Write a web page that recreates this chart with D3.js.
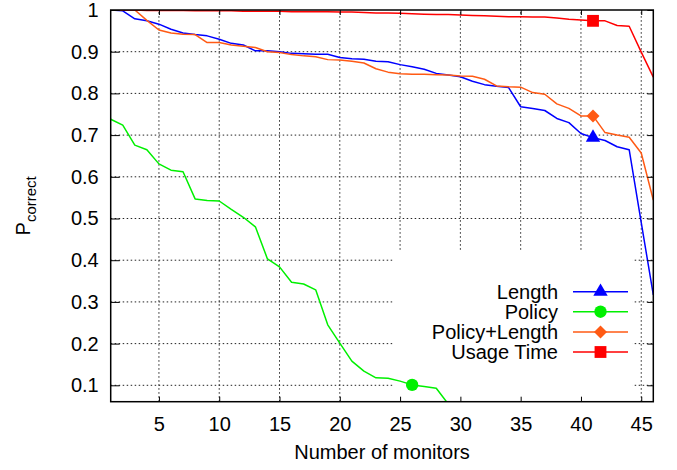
<!DOCTYPE html>
<html>
<head>
<meta charset="utf-8">
<script src="https://cdn.jsdelivr.net/npm/d3@7"></script>
<style>
  html, body { margin: 0; padding: 0; background: #fff; }
  svg { display: block; font-family: "Liberation Sans", Arial, sans-serif; }
</style>
</head>
<body>
<div id="chart"></div>
<script>
// ---- data ----
const monitors = [1,2,3,4,5,6,7,8,9,10,11,12,13,14,15,16,17,18,19,20,21,22,23,24,25,26,27,28,29,30,31,32,33,34,35,36,37,38,39,40,41,42,43,44,45,46];
const lengthVals = [1.000,0.998,0.979,0.974,0.966,0.954,0.945,0.941,0.938,0.930,0.920,0.916,0.902,0.902,0.900,0.896,0.895,0.894,0.894,0.886,0.883,0.882,0.877,0.876,0.869,0.864,0.858,0.848,0.844,0.840,0.829,0.821,0.817,0.814,0.768,0.764,0.759,0.740,0.730,0.704,0.694,0.687,0.672,0.665,0.490,0.317];
const policyVals = [0.738,0.724,0.676,0.665,0.631,0.616,0.612,0.547,0.543,0.542,0.522,0.503,0.480,0.403,0.384,0.347,0.343,0.329,0.245,0.201,0.158,0.134,0.118,0.117,0.110,0.101,0.097,0.093,0.055];
const policyLengthVals = [1.000,1.000,1.000,0.975,0.952,0.945,0.942,0.941,0.922,0.922,0.916,0.913,0.910,0.900,0.898,0.893,0.890,0.888,0.881,0.880,0.877,0.873,0.859,0.851,0.847,0.846,0.846,0.845,0.844,0.842,0.841,0.834,0.818,0.816,0.815,0.802,0.798,0.775,0.764,0.746,0.746,0.706,0.700,0.695,0.657,0.544];
const usageTimeVals = [1.000,1.000,1.000,0.999,0.999,0.999,0.999,0.998,0.998,0.998,0.998,0.997,0.997,0.997,0.997,0.996,0.996,0.996,0.996,0.995,0.995,0.994,0.993,0.993,0.992,0.991,0.990,0.989,0.989,0.988,0.987,0.986,0.985,0.984,0.984,0.983,0.983,0.981,0.978,0.976,0.974,0.974,0.963,0.961,0.899,0.839];
const seriesNames = ["Length","Policy","Policy+Length","Usage Time"];
const markerAt = [41, 26, 41, 41];
const xTicks = [5,10,15,20,25,30,35,40,45];
const yTicks = [0.1,0.2,0.3,0.4,0.5,0.6,0.7,0.8,0.9,1];
const xLabel = "Number of monitors";

// ---- style ----
const colors = ["#0000ff","#00f000","#ff5a14","#ff0000"];
const symbols = [d3.symbolTriangle, d3.symbolCircle, d3.symbolSquare, d3.symbolSquare];
const symSizes = [90, 120, 85, 140];
const symRot = [0, 0, 45, 0];

const W = 677, H = 470;
const mLeft = 110.7, mRight = 653.3, mTop = 10, mBottom = 401.7;

const svg = d3.select("#chart").append("svg").attr("width", W).attr("height", H);

const x = d3.scaleLinear().domain([1, 46]).range([mLeft, mRight]);
const y = d3.scaleLinear().domain([0.0607, 1]).range([mBottom, mTop]);

// grid
const grid = svg.append("g").attr("stroke", "#222").attr("stroke-width", 1).attr("stroke-dasharray", "1.5,2.5");
grid.selectAll("line.gx").data(xTicks).join("line")
  .attr("x1", d => x(d)).attr("x2", d => x(d)).attr("y1", mBottom).attr("y2", mTop);
grid.selectAll("line.gy").data(yTicks.filter(d => d < 1)).join("line")
  .attr("x1", mLeft).attr("x2", mRight).attr("y1", d => y(d)).attr("y2", d => y(d));

// legend background (hides grid)
const legX0 = x(24.4), legX1 = x(44.3), legY0 = y(0.42);
svg.append("rect").attr("x", legX0).attr("y", legY0).attr("width", legX1 - legX0).attr("height", mBottom - legY0).attr("fill", "#fff");

// clip
svg.append("clipPath").attr("id", "clip").append("rect")
  .attr("x", mLeft).attr("y", mTop).attr("width", mRight - mLeft).attr("height", mBottom - mTop);

const allSeries = [lengthVals, policyVals, policyLengthVals, usageTimeVals];
const line = d3.line().x(d => x(d[0])).y(d => y(d[1]));
const plot = svg.append("g").attr("clip-path", "url(#clip)");
allSeries.forEach((vals, i) => {
  const pts = vals.map((v, j) => [monitors[j], v]);
  plot.append("path").datum(pts).attr("d", line)
    .attr("fill", "none").attr("stroke", colors[i]).attr("stroke-width", 1.5)
    .attr("stroke-linejoin", "round");
});
allSeries.forEach((vals, i) => {
  const j = monitors.indexOf(markerAt[i]);
  svg.append("path").attr("d", d3.symbol().type(symbols[i]).size(symSizes[i])())
    .attr("transform", `translate(${x(markerAt[i])},${y(vals[j])}) rotate(${symRot[i]})`)
    .attr("fill", colors[i]);
});

// axes (inward ticks)
const axL = d3.axisLeft(y).tickValues(yTicks).tickSize(-9).tickPadding(12).tickFormat(d => d === 1 ? "1" : d3.format(".1f")(d));
const axR = d3.axisRight(y).tickValues(yTicks).tickSize(-6).tickFormat("");
const axB = d3.axisBottom(x).tickValues(xTicks).tickSize(-5).tickPadding(15);
const axT = d3.axisTop(x).tickValues(xTicks).tickSize(-5).tickFormat("");

function styleAxis(g) {
  g.select(".domain").remove();
  g.selectAll(".tick line").attr("stroke", "#000").attr("stroke-width", 1);
  g.selectAll(".tick text").attr("fill", "#000").attr("font-size", 20).attr("font-family", "Liberation Sans, Arial, sans-serif");
}
svg.append("g").attr("transform", `translate(${mLeft},0)`).call(axL).call(styleAxis);
svg.append("g").attr("transform", `translate(${mRight},0)`).call(axR).call(styleAxis);
svg.append("g").attr("transform", `translate(0,${mBottom})`).call(axB).call(styleAxis);
svg.append("g").attr("transform", `translate(0,${mTop})`).call(axT).call(styleAxis);

// frame
svg.append("rect").attr("x", mLeft).attr("y", mTop).attr("width", mRight - mLeft).attr("height", mBottom - mTop)
  .attr("fill", "none").attr("stroke", "#000").attr("stroke-width", 1.5);

// axis labels
svg.append("text").attr("x", (mLeft + mRight) / 2).attr("y", 459).attr("text-anchor", "middle")
  .attr("font-size", 20).attr("fill", "#000").text(xLabel);
const yl = svg.append("text").attr("transform", `translate(30,${(mTop + mBottom) / 2}) rotate(-90)`)
  .attr("text-anchor", "middle").attr("font-size", 20).attr("fill", "#000");
yl.append("tspan").text("P");
yl.append("tspan").attr("font-size", 15).attr("dy", 6).text("correct");

// legend
const legTextX = 558, legLine0 = 573, legLine1 = 628, legY = [291.7, 311.7, 332, 352];
seriesNames.forEach((name, i) => {
  svg.append("text").attr("x", legTextX).attr("y", legY[i]).attr("text-anchor", "end")
    .attr("dominant-baseline", "central").attr("font-size", 20).attr("fill", "#000").text(name);
  svg.append("line").attr("x1", legLine0).attr("x2", legLine1).attr("y1", legY[i]).attr("y2", legY[i])
    .attr("stroke", colors[i]).attr("stroke-width", 1.5);
  svg.append("path").attr("d", d3.symbol().type(symbols[i]).size(symSizes[i])())
    .attr("transform", `translate(${(legLine0 + legLine1) / 2},${legY[i]}) rotate(${symRot[i]})`).attr("fill", colors[i]);
});
</script>
</body>
</html>
